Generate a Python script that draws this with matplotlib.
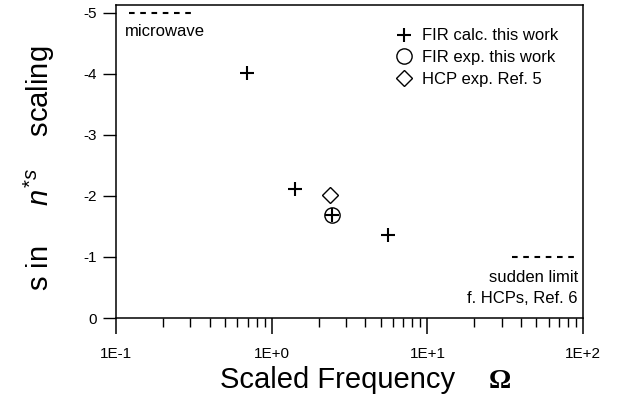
import matplotlib
matplotlib.use("Agg")
import matplotlib.pyplot as plt
from matplotlib.ticker import FixedLocator, LogLocator, FuncFormatter, NullFormatter

plt.rcParams['font.family'] = ['Liberation Sans', 'DejaVu Sans']
plt.rcParams['mathtext.fontset'] = 'custom'
plt.rcParams['mathtext.rm'] = 'Liberation Sans'
plt.rcParams['mathtext.it'] = 'Liberation Sans:italic'

# data
calc_omega = [0.695, 1.42, 2.45, 5.6]
calc_s = [-4.02, -2.12, -1.68, -1.36]
exp_omega = [2.45]
exp_s = [-1.68]
hcp_omega = [2.36]
hcp_s = [-2.01]
microwave_omega = [0.121, 0.308]
microwave_s = [-5.0, -5.0]
sudden_omega = [35.0, 90.0]
sudden_s = [-1.0, -1.0]
y_ticks = [0, -1, -2, -3, -4, -5]
x_ticks = [0.1, 1, 10, 100]
x_labels = ["1E-1", "1E+0", "1E+1", "1E+2"]

fig = plt.figure(figsize=(6.17, 4.0), dpi=100)
ax = fig.add_axes([0.188, 0.205, 0.757, 0.7825])

ax.plot(calc_omega, calc_s, ls='none', marker='+', ms=10.5, mew=1.5, color='black',
        label='FIR calc. this work')
ax.plot(exp_omega, exp_s, ls='none', marker='o', ms=11, mew=1.0, mfc='none', color='black',
        label='FIR exp. this work')
ax.plot(hcp_omega, hcp_s, ls='none', marker='D', ms=8, mew=1.0, mfc='none', color='black',
        label='HCP exp. Ref. 5')
ax.plot(microwave_omega, microwave_s, ls=(0, (2.7, 2.7)), lw=1.5, color='black')
ax.plot(sudden_omega, sudden_s, ls=(0, (2.7, 2.7)), lw=1.5, color='black')

ax.set_xscale('log')
ax.set_xlim(0.1, 100)
ax.set_ylim(0, -5.13)

ax.xaxis.set_major_locator(FixedLocator(x_ticks))
ax.xaxis.set_major_formatter(FuncFormatter(lambda v, p: x_labels[x_ticks.index(v)] if v in x_ticks else ""))
ax.xaxis.set_minor_locator(LogLocator(base=10, subs=range(2, 10)))
ax.xaxis.set_minor_formatter(NullFormatter())
ax.yaxis.set_major_locator(FixedLocator(y_ticks))
ax.yaxis.set_major_formatter(FuncFormatter(lambda v, p: "%d" % v))

ax.tick_params(axis='x', which='major', direction='out', length=11.5, width=1.1, labelsize=11, pad=9.4)
ax.tick_params(axis='x', which='minor', direction='out', length=6.5, width=1.0)
ax.tick_params(axis='y', which='major', direction='out', length=9.4, width=1.0, labelsize=11, pad=4.3)
for sp in ax.spines.values():
    sp.set_linewidth(1.1)

ax.set_xlabel("Scaled Frequency", fontsize=21)
ax.xaxis.label.set_va('baseline')
ax.xaxis.set_label_coords(0.475, -0.2236)
ax.text(0.822, -0.2236, "\u03a9", transform=ax.transAxes, fontsize=20, fontweight='bold',
        family=['Liberation Serif', 'DejaVu Serif'], ha='center', va='baseline')

ax.set_ylabel("s in     $n^{*s}$    scaling", fontsize=21)
ax.yaxis.label.set_va('center')
ax.yaxis.set_label_coords(-0.165, 0.479)

ax.text(0.019, 0.914, "microwave", transform=ax.transAxes, fontsize=12, va='center', ha='left')
ax.text(0.989, 0.128, "sudden limit", transform=ax.transAxes, fontsize=12, va='center', ha='right')
ax.text(0.989, 0.061, "f. HCPs, Ref. 6", transform=ax.transAxes, fontsize=12, va='center', ha='right')

ax.legend(loc='upper left', bbox_to_anchor=(0.595, 0.925), frameon=False, fontsize=12,
          handlelength=1.2, handletextpad=0.5, labelspacing=0.4, borderaxespad=0, borderpad=0)

fig.savefig("out.png", dpi=100)
